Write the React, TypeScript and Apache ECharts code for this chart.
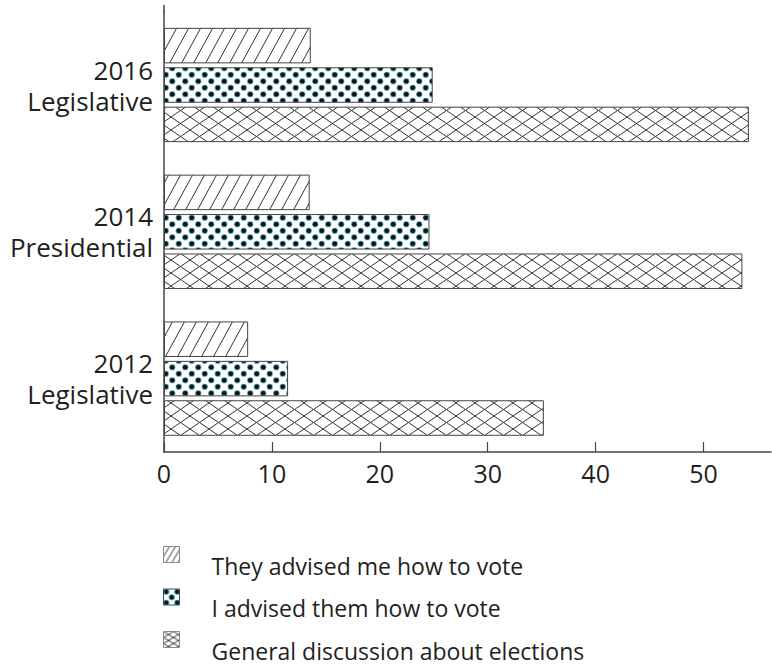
import React, { useEffect, useRef } from "react";
import * as echarts from "echarts";

const categories = ["2016\nLegislative", "2014\nPresidential", "2012\nLegislative"];
const seriesNames = [
  "They advised me how to vote",
  "I advised them how to vote",
  "General discussion about elections",
];
const theyAdvisedMe = [13.6, 13.5, 7.8];
const iAdvisedThem = [24.9, 24.6, 11.5];
const generalDiscussion = [54.2, 53.6, 35.2];
const xTickValues = [0, 10, 20, 30, 40, 50];

const FONT = "'Open Sans', 'Noto Sans', sans-serif";
const TEXT = "#231f20";
const LINE = "#444";

function makeTile(w: number, h: number, draw: (ctx: CanvasRenderingContext2D) => void) {
  const c = document.createElement("canvas");
  c.width = w;
  c.height = h;
  const ctx = c.getContext("2d")!;
  ctx.fillStyle = "#ffffff";
  ctx.fillRect(0, 0, w, h);
  draw(ctx);
  return { image: c, repeat: "repeat", imageWidth: w, imageHeight: h } as any;
}

function seg(ctx: CanvasRenderingContext2D, x1: number, y1: number, x2: number, y2: number) {
  ctx.beginPath();
  ctx.moveTo(x1, y1);
  ctx.lineTo(x2, y2);
  ctx.stroke();
}

function diagonalPattern(W: number, H: number) {
  return makeTile(W, H, (ctx) => {
    ctx.strokeStyle = "#333";
    ctx.lineWidth = 1;
    for (const dx of [-W, 0, W]) seg(ctx, dx - W, 2 * H, dx + 2 * W, -H);
  });
}

function dotPattern(W: number, H: number, rOut: number, rIn: number) {
  return makeTile(W, H, (ctx) => {
    const a = W / 4, b = H / 4;
    const base = [[a, b], [3 * a, 3 * b]];
    for (const [bx, by] of base) {
      for (const ox of [-W, 0, W]) {
        for (const oy of [-H, 0, H]) {
          const x = bx + ox, y = by + oy;
          ctx.fillStyle = "#3f9fac";
          ctx.beginPath();
          ctx.arc(x, y, rOut, 0, Math.PI * 2);
          ctx.fill();
          ctx.fillStyle = "#141414";
          ctx.beginPath();
          ctx.arc(x, y, rIn, 0, Math.PI * 2);
          ctx.fill();
        }
      }
    }
  });
}

function crossPattern(W: number, H: number) {
  return makeTile(W, H, (ctx) => {
    ctx.strokeStyle = "#333";
    ctx.lineWidth = 1;
    for (const dx of [-W, 0, W]) {
      seg(ctx, dx - W, -H, dx + 2 * W, 2 * H);
      seg(ctx, dx - W, 2 * H, dx + 2 * W, -H);
    }
  });
}

export default function App() {
  const ref = useRef<HTMLDivElement>(null);

  useEffect(() => {
    if (!ref.current) return;
    const chart = echarts.init(ref.current, null, { renderer: "svg" });
    const patterns = [diagonalPattern(12, 22), dotPattern(13, 13, 3.1, 2.3), crossPattern(19, 13)];
    const iconPatterns = [diagonalPattern(6, 10), dotPattern(11, 11, 3.0, 2.2), crossPattern(10, 6)];
    const values = [theyAdvisedMe, iAdvisedThem, generalDiscussion];

    chart.setOption({
      animation: false,
      backgroundColor: "#ffffff",
      textStyle: { fontFamily: FONT },
      grid: {
        left: 164,
        right: 1,
        top: 11.6,
        bottom: 215,
        containLabel: false,
        outerBoundsMode: "none",
      },
      xAxis: {
        type: "value",
        min: 0,
        max: 56.25,
        interval: 10,
        splitLine: { show: false },
        axisLine: { show: true, lineStyle: { color: LINE, width: 1.5 } },
        axisTick: {
          show: true,
          inside: true,
          length: 10,
          customValues: xTickValues,
          lineStyle: { color: LINE, width: 1.2 },
        },
        axisLabel: {
          customValues: xTickValues,
          fontSize: 25,
          fontFamily: FONT,
          color: TEXT,
          margin: 8,
        },
      },
      yAxis: {
        type: "category",
        data: categories,
        inverse: true,
        axisTick: { show: false },
        axisLine: { show: true, lineStyle: { color: LINE, width: 1.5 } },
        axisLabel: {
          fontSize: 26,
          lineHeight: 31,
          fontFamily: FONT,
          color: TEXT,
          margin: 11,
          align: "right",
        },
        splitLine: { show: false },
      },
      legend: {
        orient: "vertical",
        left: 163,
        top: 532,
        height: 400,
        padding: 0,
        itemWidth: 16,
        itemHeight: 16,
        itemGap: -2.5,
        icon: "rect",
        data: seriesNames.map((name, i) => ({
          name,
          itemStyle: {
            color: iconPatterns[i],
            borderColor: i === 1 ? "#2a5560" : "#8a8a8a",
            borderWidth: 1,
          },
        })),
        formatter: (name: string) => `{t|${name}}`,
        textStyle: {
          fontSize: 23,
          fontFamily: FONT,
          color: TEXT,
          rich: {
            t: {
              fontSize: 23,
              lineHeight: 20,
              fontFamily: FONT,
              color: TEXT,
              padding: [22, 0, 0, 27],
            },
          },
        },
      },
      graphic: [
        {
          type: "line",
          shape: { x1: 164, y1: 5, x2: 164, y2: 12 },
          style: { stroke: LINE, lineWidth: 1.5 },
        },
      ],
      series: seriesNames.map((name, i) => ({
        name,
        type: "bar",
        data: values[i],
        barWidth: 35.5,
        barGap: "11%",
        itemStyle: {
          color: patterns[i],
          borderColor: LINE,
          borderWidth: 1,
        },
        emphasis: { disabled: true },
      })),
    });

    return () => chart.dispose();
  }, []);

  return (
    <div
      ref={ref}
      style={{ position: "absolute", left: 0, top: 0, width: 772, height: 667 }}
    />
  );
}
